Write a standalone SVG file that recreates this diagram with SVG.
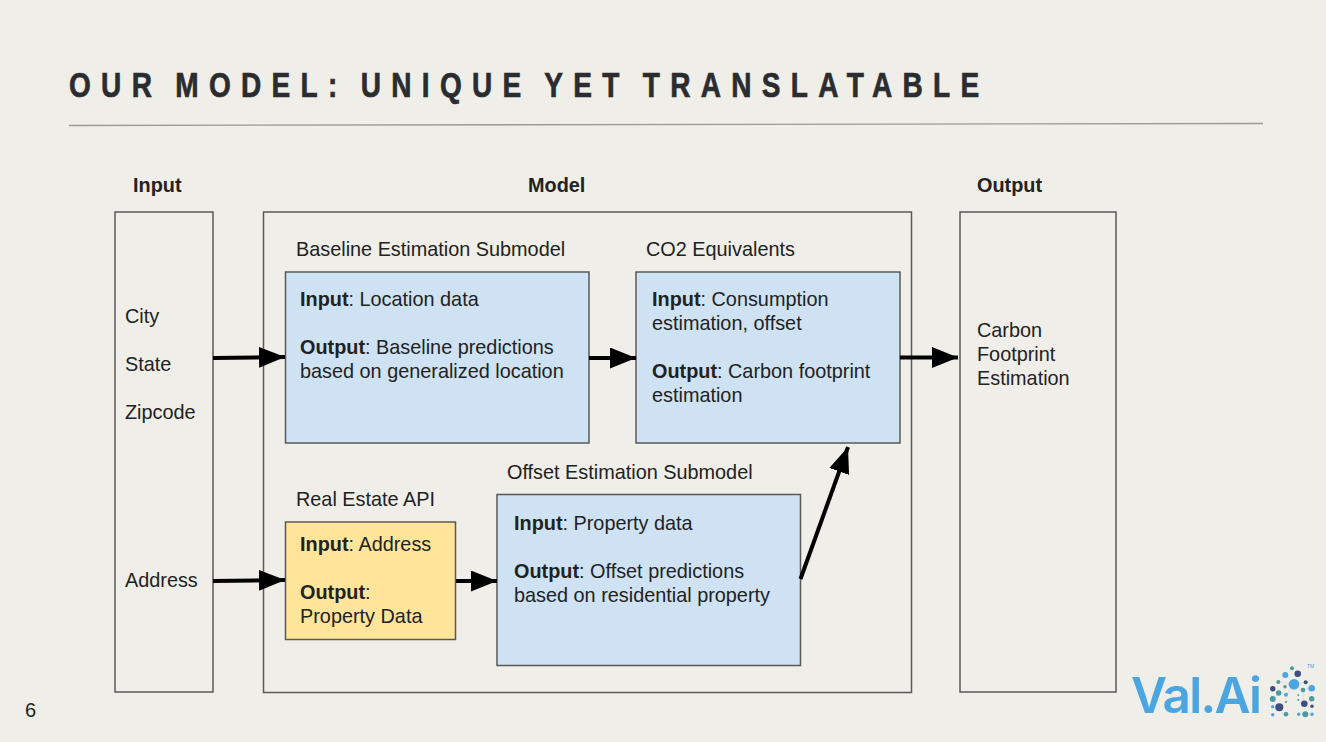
<svg xmlns="http://www.w3.org/2000/svg" width="1326" height="742" viewBox="0 0 1326 742">
<defs>
<style>
text{font-family:"Liberation Sans",Arial,sans-serif;font-size:19.85px;fill:#222}
.h{font-weight:700}
.b{font-weight:700}
.box{fill:none;stroke:#595959;stroke-width:1.5}
.blue{fill:#cfe2f3;stroke:#595959;stroke-width:1.5}
.yel{fill:#ffe599;stroke:#595959;stroke-width:1.5}
.c{stroke:#000;stroke-width:4;fill:none;marker-end:url(#a)}
.t{fill:#4a9a9f}.n{fill:#3f4f7d}.l{fill:#4aa5e0}
</style>
<marker id="a" markerUnits="userSpaceOnUse" markerWidth="28" markerHeight="22" refX="26" refY="10.500" orient="auto"><path d="M0 0L26 10.500L0 21Z" fill="#000"/></marker>
</defs>
<rect width="1326" height="742" fill="#efeee8"/>
<text id="title" transform="translate(69 97) scale(.8 1)" style="font-size:35px;font-weight:700;fill:#2b2c30;stroke:#2b2c30;stroke-width:.7" letter-spacing="12.900" word-spacing="-6.200">OUR MODEL: UNIQUE YET TRANSLATABLE</text>
<line x1="69" y1="125.500" x2="1263" y2="123.500" stroke="#9a9a96" stroke-width="1.300"/>
<g id="input">
<text class="h" x="133" y="191.500">Input</text>
<rect class="box" x="115" y="212" width="98" height="480"/>
<text x="125" y="323">City</text><text x="125" y="371">State</text><text x="125" y="419">Zipcode</text><text x="125" y="587">Address</text>
</g>
<g id="model">
<text class="h" x="528" y="191.500">Model</text>
<rect class="box" x="263.500" y="212" width="648" height="480.500"/>
</g>
<g id="output">
<text class="h" x="977" y="191.500">Output</text>
<rect class="box" x="960" y="212" width="156" height="480"/>
<text x="977" y="337">Carbon</text><text x="977" y="361">Footprint</text><text x="977" y="385">Estimation</text>
</g>
<g id="baseline">
<text x="296" y="255.500">Baseline Estimation Submodel</text>
<rect class="blue" x="285.500" y="272" width="303.500" height="171"/>
<text x="300" y="306"><tspan class="b">Input</tspan>: Location data</text>
<text x="300" y="354"><tspan class="b">Output</tspan>: Baseline predictions</text>
<text x="300" y="378">based on generalized location</text>
</g>
<g id="co2">
<text x="646" y="255.500">CO2 Equivalents</text>
<rect class="blue" x="636" y="272" width="264" height="171"/>
<text x="652" y="306"><tspan class="b">Input</tspan>: Consumption</text>
<text x="652" y="330">estimation, offset</text>
<text x="652" y="378"><tspan class="b">Output</tspan>: Carbon footprint</text>
<text x="652" y="402">estimation</text>
</g>
<g id="api">
<text x="296" y="505.500">Real Estate API</text>
<rect class="yel" x="285.500" y="522" width="170" height="117.500"/>
<text x="300" y="551"><tspan class="b">Input</tspan>: Address</text>
<text x="300" y="599"><tspan class="b">Output</tspan>:</text>
<text x="300" y="623">Property Data</text>
</g>
<g id="offset">
<text x="507" y="478.500">Offset Estimation Submodel</text>
<rect class="blue" x="497" y="494.500" width="303.500" height="171"/>
<text x="514" y="530"><tspan class="b">Input</tspan>: Property data</text>
<text x="514" y="578"><tspan class="b">Output</tspan>: Offset predictions</text>
<text x="514" y="602">based on residential property</text>
</g>
<g id="connectors">
<path class="c" d="M213 358L285 357"/>
<path class="c" d="M589 358L636 358"/>
<path class="c" d="M900 357.500L958 357.500"/>
<path class="c" d="M213 581L285 580"/>
<path class="c" d="M456 581L497 581"/>
<path class="c" d="M800.500 579L848 447"/>
</g>
<text id="page" x="25" y="717" style="font-size:20px">6</text>
<g id="logo">
<text x="1131" y="713" textLength="131" style="font-family:Inter,'Liberation Sans',sans-serif;font-size:49.500px;font-weight:600;fill:#4aa5e0">Val.Ai</text>
<text x="1307" y="668" style="font-size:5px;fill:#4aa5e0">TM</text>
<g stroke="#c9d6dc" stroke-width=".5" fill="none"><path d="M1285 675L1294 684L1298 674M1279 682L1294 684L1306 682M1273 689L1279 693L1286 695L1294 684L1303 690L1312 688M1273 699L1279 693M1279 707L1286 702L1286 695M1304 704L1303 690M1312 699L1304 704"/></g>
<circle class="t" cx="1292" cy="668.300" r="2"/><circle class="n" cx="1297.700" cy="673.700" r="3.300"/><circle class="l" cx="1285.300" cy="675" r="3"/><circle class="t" cx="1278.300" cy="682" r="2"/><circle class="n" cx="1305.700" cy="682.300" r="2"/><circle class="l" cx="1294" cy="684.300" r="5.300"/><circle class="t" cx="1285" cy="686.700" r="1.700"/><circle class="l" cx="1311.700" cy="688.300" r="3.300"/><circle class="n" cx="1272.700" cy="688.700" r="2.700"/><circle class="t" cx="1278.700" cy="693" r="2.700"/><circle class="t" cx="1303" cy="690" r="2.300"/><circle class="l" cx="1286" cy="694.700" r="2"/><circle class="l" cx="1298.300" cy="695" r="1"/><circle class="t" cx="1272.700" cy="699" r="3"/><circle class="t" cx="1311.700" cy="698.700" r="2.700"/><circle class="t" cx="1298.300" cy="700" r="1"/><circle class="t" cx="1286" cy="702" r="1"/><circle class="n" cx="1304.300" cy="703.700" r="3.300"/><circle class="l" cx="1272.700" cy="706.700" r="1.700"/><circle class="n" cx="1279.300" cy="707.300" r="4"/><circle class="n" cx="1312" cy="706.300" r="1.700"/><circle class="l" cx="1272.700" cy="714.700" r="1.700"/><circle class="t" cx="1286" cy="714.300" r="2.300"/><circle class="l" cx="1298.700" cy="714.300" r="1.700"/><circle class="t" cx="1305.300" cy="714.300" r="3"/><circle class="l" cx="1312" cy="714.300" r="1.700"/>
</g>
</svg>
